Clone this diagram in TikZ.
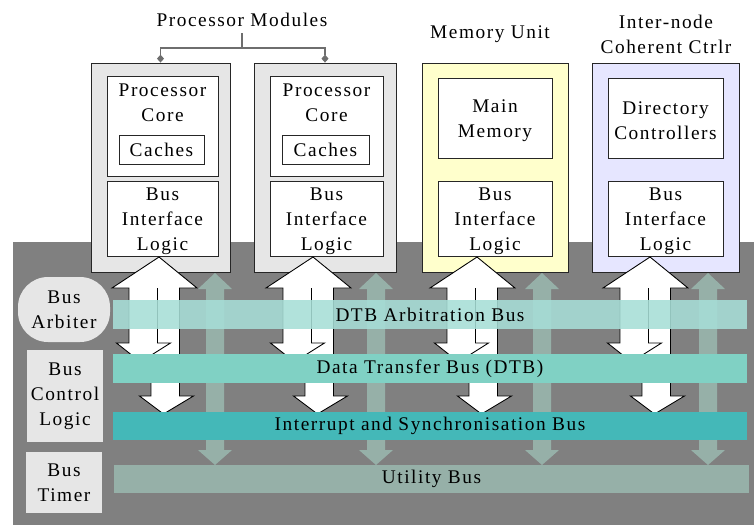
\documentclass[tikz,border=0pt]{standalone}
\usepackage{fontspec}
\setmainfont{Liberation Serif}[LetterSpace=8]
\usetikzlibrary{arrows.meta, fit}

\definecolor{panelgray}{RGB}{128,128,128}
\definecolor{pmfill}{RGB}{230,230,230}
\definecolor{memfill}{RGB}{255,255,204}
\definecolor{ctrlfill}{RGB}{230,230,255}
\definecolor{arbcol}{RGB}{167,222,215}
\definecolor{dtbcol}{RGB}{128,209,196}
\definecolor{intcol}{RGB}{68,184,184}
\definecolor{utilcol}{RGB}{150,176,168}
\definecolor{linkgray}{RGB}{110,110,110}

\tikzset{
    every node/.style={font=\fontsize{11}{14.2}\selectfont},
    frame/.style={fit={#1}, inner sep=0pt, draw=black!85, line width=0.5pt},
    sidebox/.style={fit={#1}, inner sep=0pt, fill=pmfill},
    busbar/.style={fit={#1}, inner sep=0pt},
    txt/.style={align=center, inner sep=0pt},
    boxtxt/.style={txt, yshift=-1.6pt},
}

\begin{document}
\begin{tikzpicture}[x=0.02cm, y=-0.02cm]
    \useasboundingbox (0,0) rectangle (754,525);

    % Backplane
    \fill[panelgray] (13,242) rectangle (754,525);

    % Utility bus arrows, behind the modules and the buses
    \foreach \x in {215,376,542,708}{
        \fill[utilcol] (\x,273) -- ({\x+17},289) -- ({\x+9},289) -- ({\x+9},450)
            -- ({\x+17},450) -- (\x,465) -- ({\x-17},450) -- ({\x-9},450)
            -- ({\x-9},289) -- ({\x-17},289) -- cycle;
    }

    % Processor modules
    \foreach \i/\a/\b/\c/\d in {1/91/230/107/218, 2/254/396/270/383}{
        \node[frame={(\a,63) (\b,272)}, fill=pmfill] (pm\i) {};
        \node[frame={(\c,76) (\d,176)}, fill=white] (core\i) {};
        \node[txt] (corelbl\i) at ({(\c+\d)/2},103) {Processor\\Core};
        \node[frame={({\c+12},135) ({\d-14},164)}, fill=white] (cache\i) {};
        \node[txt] (cachelbl\i) at (cache\i) {Caches};
        \node[frame={(\c,181) (\d,256)}, fill=white] (bil\i) {};
        \node[boxtxt] (billbl\i) at (bil\i) {Bus\\Interface\\Logic};
    }

    % Memory unit
    \node[frame={(422,63) (568,272)}, fill=memfill] (mem) {};
    \node[frame={(438,78) (552,158)}, fill=white] (mainmem) {};
    \node[boxtxt] (mainmemlbl) at (mainmem) {Main\\Memory};
    \node[frame={(438,181) (552,256)}, fill=white] (bil3) {};
    \node[boxtxt] (billbl3) at (bil3) {Bus\\Interface\\Logic};

    % Inter-node coherent controller
    \node[frame={(592,63) (739,272)}, fill=ctrlfill] (ctrl) {};
    \node[frame={(608,78) (723,158)}, fill=white] (dirctrl) {};
    \node[boxtxt] (dirctrllbl) at (dirctrl) {Directory\\Controllers};
    \node[frame={(608,181) (723,256)}, fill=white] (bil4) {};
    \node[boxtxt] (billbl4) at (bil4) {Bus\\Interface\\Logic};

    % Titles
    \node (pmtitle) at (242,20) {Processor Modules};
    \node (memtitle) at (490,34) {Memory Unit};
    \node[txt] (ctrltitle) at (666,34) {Inter-node\\Coherent Ctrlr};

    \coordinate (pmjoin) at (242,48);
    \draw[linkgray, line width=0.6pt] (pmtitle.south) -- (pmjoin);
    \draw[linkgray, line width=0.6pt, -{Diamond[length=4.5pt, width=4pt]}] (pmjoin) -| (pm1.north);
    \draw[linkgray, line width=0.6pt, -{Diamond[length=4.5pt, width=4pt]}] (pmjoin) -| (pm2.north);

    % Forked transfer arrows below each bus interface
    \foreach \t in {159,313,477,650}{
        \draw[fill=white, line width=0.5pt] (\t,257) -- ({\t+38},288) -- ({\t+20.5},288)
            -- ({\t+20.5},396) -- ({\t+34.5},396) -- ({\t+4.5},414) -- ({\t-19.5},396)
            -- ({\t-8},396) -- ({\t-8},355.3) -- ({\t-18.5},362) -- ({\t-42.5},343)
            -- ({\t-30},343) -- ({\t-30},288) -- ({\t-47},288) -- cycle;
        \draw[line width=0.5pt] ({\t-1.5},288) -- ({\t-1.5},343) -- ({\t+11.5},343) -- ({\t-8},355.3);
    }

    % Buses
    \node[busbar={(113,300) (747,329)}, fill=arbcol, fill opacity=0.88] (arbbus) {};
    \node[txt] (arbbuslbl) at (arbbus) {DTB Arbitration Bus};
    \node[busbar={(113,354) (747,383)}, fill=dtbcol] (dtbbus) {};
    \node[txt] (dtbbuslbl) at (dtbbus) {Data Transfer Bus (DTB)};
    \node[busbar={(113,412) (747,440)}, fill=intcol] (intbus) {};
    \node[txt] (intbuslbl) at (intbus) {Interrupt and Synchronisation Bus};
    \node[busbar={(114,465) (749,493)}, fill=utilcol] (utilbus) {};
    \node[txt] (utilbuslbl) at (utilbus) {Utility Bus};

    % Bus control units on the left
    \node[sidebox={(18,277) (110,342)}, rounded corners=0.6cm] (arbiter) {};
    \node[txt] (arbiterlbl) at (arbiter) {Bus\\Arbiter};
    \node[sidebox={(27,350) (103,442)}] (ctrllogic) {};
    \node[txt] (ctrllogiclbl) at (ctrllogic) {Bus\\Control\\Logic};
    \node[sidebox={(26,452) (102,513)}] (timer) {};
    \node[txt] (timerlbl) at (timer) {Bus\\Timer};
\end{tikzpicture}
\end{document}
